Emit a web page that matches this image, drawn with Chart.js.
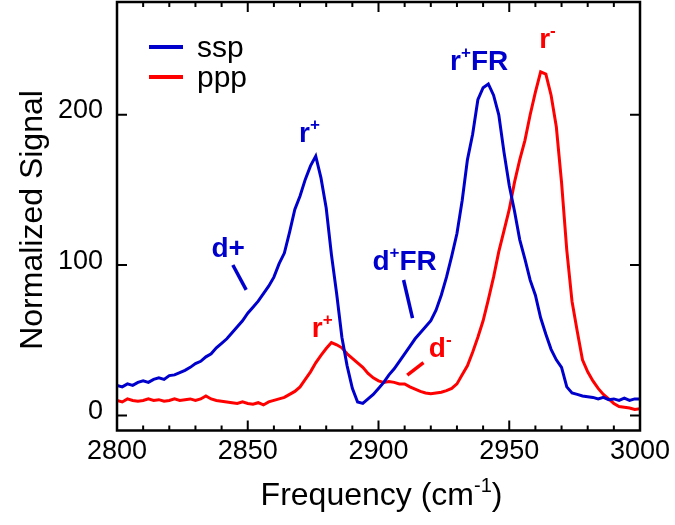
<!DOCTYPE html>
<html>
<head>
<meta charset="utf-8">
<script src="https://cdn.jsdelivr.net/npm/chart.js@4.4.1/dist/chart.umd.min.js"></script>
<style>
    html, body { margin: 0; padding: 0; background: #fff; }
    #wrap { width: 675px; height: 525px; }
</style>
</head>
<body>
<div id="wrap"><canvas id="canvas"></canvas></div>
<script>
const freq = [
    2800, 2802, 2804, 2806, 2808, 2810, 2812, 2814, 2816, 2818,
    2820, 2822, 2824, 2826, 2828, 2830, 2832, 2834, 2836, 2838,
    2840, 2842, 2844, 2846, 2848, 2850, 2852, 2854, 2856, 2858,
    2860, 2862, 2864, 2866, 2868, 2870, 2872, 2874, 2876, 2878,
    2880, 2882, 2884, 2886, 2888, 2890, 2892, 2894, 2896, 2898,
    2900, 2902, 2904, 2906, 2908, 2910, 2912, 2914, 2916, 2918,
    2920, 2922, 2924, 2926, 2928, 2930, 2932, 2934, 2936, 2938,
    2940, 2942, 2944, 2946, 2948, 2950, 2952, 2954, 2956, 2958,
    2960, 2962, 2964, 2966, 2968, 2970, 2972, 2974, 2976, 2978,
    2980, 2982, 2984, 2986, 2988, 2990, 2992, 2994, 2996, 2998,
    3000
]
const ssp = [
    20, 19, 21, 20, 22, 23, 22, 24, 25, 24,
    26.5, 27, 28.5, 30, 32, 34.5, 36, 39, 41, 45,
    48, 51, 55, 59, 63, 68, 72, 76, 81, 86,
    92, 101, 108, 122, 137, 146, 157, 166, 172.5, 158,
    138, 107, 81, 52, 33, 18, 9, 8, 11, 14,
    18, 22, 27, 31, 36, 41, 46, 51, 55, 59,
    63, 70, 80, 92, 106, 121, 143, 170, 187, 210,
    218, 220.5, 213, 200, 175, 153, 136, 117, 104, 90,
    80, 65, 54, 44, 37, 32, 19, 15, 14, 13,
    12.5, 12, 11, 12, 10.5, 11, 10, 11.5, 10, 11,
    11
]
const ppp = [
    10, 9, 11, 10, 9.5, 10, 11, 10, 10.5, 9.5,
    10, 11, 10, 10.5, 11, 10, 11, 13, 11, 10,
    9.5, 9, 8.5, 8, 9, 8, 7.5, 8.5, 7, 9,
    10, 11, 12, 14, 16, 19, 24, 29, 35, 40,
    44.5, 48.5, 47, 45, 41, 38, 35, 32, 28, 25,
    23, 22, 22.5, 22, 21, 21, 19, 17.5, 16, 15,
    14.5, 15, 15.5, 16.5, 18, 21, 27, 33, 42, 52,
    63, 77, 92, 109, 123, 137, 155, 170, 183, 200,
    215, 228.5, 227, 213, 192, 155, 110, 76, 56, 37,
    29, 23, 18, 14, 11, 8, 6, 5.5, 5, 4,
    4.5
]
const xMajorTicks = [2800, 2850, 2900, 2950, 3000]
const yMajorTicks = [0, 100, 200]
const seriesNames = ['ssp', 'ppp']

const BLUE = '#0000cd'
const RED = '#ff0000'
const FONT = "'Liberation Sans', Arial, sans-serif"

// peak labels in data units (centre x, baseline y); [text, isSuperscript]
const peakLabels = [
    {parts: [['r'], ['+', 1]], x: 2873.6, y: 182, color: BLUE},
    {parts: [['r'], ['+', 1], ['FR']], x: 2938.5, y: 229.8, color: BLUE},
    {parts: [['r'], ['-', 1]], x: 2964.6, y: 244.4, color: RED},
    {parts: [['d+']], x: 2842.5, y: 105.6, color: BLUE},
    {parts: [['d'], ['+', 1], ['FR']], x: 2910, y: 96.8, color: BLUE},
    {parts: [['r'], ['+', 1]], x: 2878.5, y: 52.4, color: RED},
    {parts: [['d'], ['-', 1]], x: 2923.6, y: 39.1, color: RED}
]
const pointers = [
    {x1: 2844.3, y1: 100.1, x2: 2849.4, y2: 83.5, color: BLUE},
    {x1: 2909.6, y1: 90.1, x2: 2913, y2: 64.8, color: BLUE},
    {x1: 2911, y1: 26.9, x2: 2917.2, y2: 35.1, color: RED}
]

const drawParts = (ctx, parts, cx, base, size, weight) => {
    const big = `${weight} ${size}px ${FONT}`
    const small = `${weight} ${Math.round(size * 0.62)}px ${FONT}`
    let w = 0
    parts.forEach(([t, sup]) => { ctx.font = sup ? small : big; w += ctx.measureText(t).width })
    let x0 = cx - w / 2
    parts.forEach(([t, sup]) => {
        ctx.font = sup ? small : big
        ctx.fillText(t, x0, sup ? base - size * 0.42 : base)
        x0 += ctx.measureText(t).width
    })
}

const decor = {
    id: 'decor',
    afterDatasetsDraw(chart) {
        const {ctx, chartArea: a, scales: {x, y}} = chart
        ctx.save()

        // pointer lines
        ctx.lineWidth = 3.5
        pointers.forEach(p => {
            ctx.strokeStyle = p.color
            ctx.beginPath()
            ctx.moveTo(x.getPixelForValue(p.x1), y.getPixelForValue(p.y1))
            ctx.lineTo(x.getPixelForValue(p.x2), y.getPixelForValue(p.y2))
            ctx.stroke()
        })

        // peak labels
        ctx.textAlign = 'left'
        ctx.textBaseline = 'alphabetic'
        peakLabels.forEach(l => {
            ctx.fillStyle = l.color
            drawParts(ctx, l.parts, x.getPixelForValue(l.x), y.getPixelForValue(l.y), 28, 'bold')
        })

        // legend
        const colors = [BLUE, RED]
        ctx.lineWidth = 4
        ctx.font = `30px ${FONT}`
        seriesNames.forEach((name, i) => {
            const ly = a.top + 45 + i * 30
            ctx.strokeStyle = colors[i]
            ctx.beginPath()
            ctx.moveTo(a.left + 32, ly)
            ctx.lineTo(a.left + 66, ly)
            ctx.stroke()
            ctx.fillStyle = '#000'
            ctx.fillText(name, a.left + 80, ly + 10)
        })

        // frame
        ctx.strokeStyle = '#000'
        ctx.lineWidth = 2.5
        ctx.strokeRect(a.left, a.top, a.right - a.left, a.bottom - a.top)

        // inside ticks on all four sides
        ctx.lineWidth = 2
        ctx.beginPath()
        for (let v = x.min; v <= x.max; v += 10) {
            const px = x.getPixelForValue(v)
            const len = xMajorTicks.includes(v) ? 10 : 5
            ctx.moveTo(px, a.bottom); ctx.lineTo(px, a.bottom - len)
            ctx.moveTo(px, a.top); ctx.lineTo(px, a.top + len)
        }
        yMajorTicks.forEach(v => {
            const py = y.getPixelForValue(v)
            ctx.moveTo(a.left, py); ctx.lineTo(a.left + 10, py)
            ctx.moveTo(a.right, py); ctx.lineTo(a.right - 10, py)
        })
        ctx.stroke()

        // axis titles
        ctx.fillStyle = '#000'
        drawParts(ctx, [['Frequency (cm'], ['-1', 1], [')']], (a.left + a.right) / 2 + 3, 505, 32, 'normal')
        ctx.translate(42, 220)
        ctx.rotate(-Math.PI / 2)
        ctx.textAlign = 'center'
        ctx.font = `32px ${FONT}`
        ctx.fillText('Normalized Signal', 0, 0)

        ctx.restore()
    }
}

const canvas = document.getElementById('canvas')
new Chart(canvas, {
    type: 'line',
    data: {
        datasets: [
            {
                label: seriesNames[0],
                data: freq.map((f, i) => ({x: f, y: ssp[i]})),
                borderColor: BLUE,
                borderWidth: 3,
                pointRadius: 0
            },
            {
                label: seriesNames[1],
                data: freq.map((f, i) => ({x: f, y: ppp[i]})),
                borderColor: RED,
                borderWidth: 3,
                pointRadius: 0
            }
        ]
    },
    options: {
        responsive: true,
        maintainAspectRatio: false,
        animation: false,
        layout: { padding: { top: 2, right: 35, left: 0, bottom: 0 } },
        plugins: { legend: { display: false }, tooltip: { enabled: false } },
        scales: {
            x: {
                type: 'linear',
                min: 2800,
                max: 3000,
                afterBuildTicks: s => { s.ticks = xMajorTicks.map(v => ({value: v})) },
                afterFit: s => { s.height = 94.5; s.paddingLeft = 0; s.paddingRight = 0 },
                grid: { display: false, drawTicks: false },
                border: { display: false },
                ticks: {
                    color: '#000', font: { size: 27, family: FONT }, padding: 5,
                    maxRotation: 0, autoSkip: false, callback: v => String(v)
                }
            },
            y: {
                min: -10,
                max: 275,
                afterBuildTicks: s => { s.ticks = yMajorTicks.map(v => ({value: v})) },
                afterFit: s => { s.width = 117; s.paddingTop = 0; s.paddingBottom = 0 },
                grid: { display: false, drawTicks: false },
                border: { display: false },
                ticks: {
                    color: '#000', font: { size: 27, family: FONT }, padding: 14,
                    labelOffset: -4, callback: v => String(v)
                }
            }
        }
    },
    plugins: [decor]
})
</script>
</body>
</html>
